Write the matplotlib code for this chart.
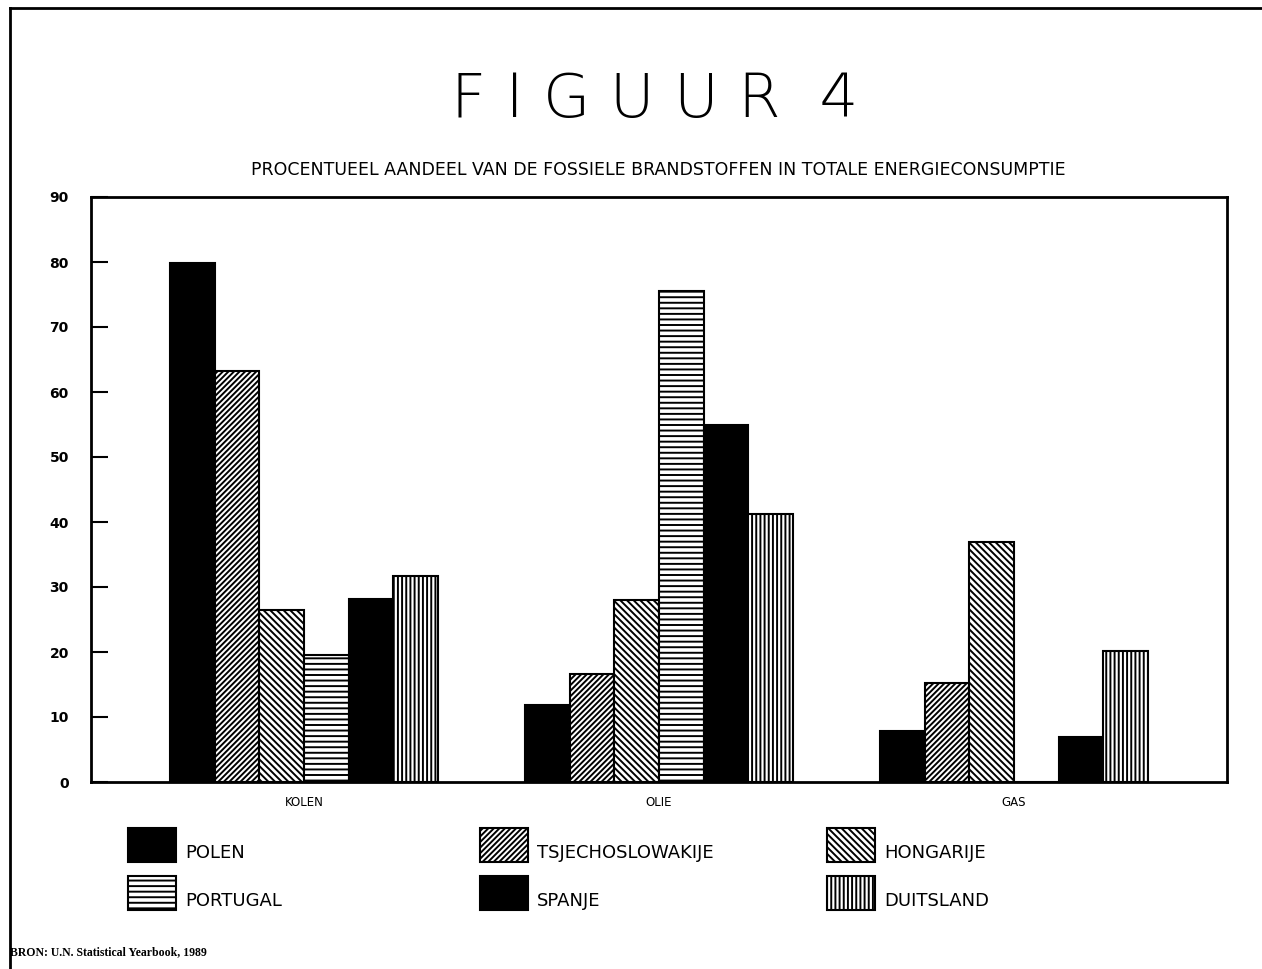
import matplotlib.pyplot as plt
import matplotlib.patches as mpatches
import numpy as np

plt.rcParams['hatch.linewidth'] = 1.4

categories = ["KOLEN", "OLIE", "GAS"]
countries = ["POLEN", "TSJECHOSLOWAKIJE", "HONGARIJE", "PORTUGAL", "SPANJE", "DUITSLAND"]
polen = [79.8, 11.8, 7.8]
tsjechoslowakije = [63.3, 16.6, 15.2]
hongarije = [26.4, 28.0, 37.0]
portugal = [19.6, 75.5, 0.0]
spanje = [28.1, 55.0, 7.0]
duitsland = [31.7, 41.3, 20.1]
yticks = [0, 10, 20, 30, 40, 50, 60, 70, 80, 90]

series = [polen, tsjechoslowakije, hongarije, portugal, spanje, duitsland]
styles = [
    dict(facecolor="black", hatch=None),
    dict(facecolor="white", hatch="//////"),
    dict(facecolor="white", hatch="\\\\\\\\\\"),
    dict(facecolor="white", hatch="---"),
    dict(facecolor="black", hatch=None),
    dict(facecolor="white", hatch="||||"),
]

W, H = 1262, 969
fig = plt.figure(figsize=(W / 100, H / 100), dpi=100)
ax = fig.add_axes([91 / W, 1 - 782 / H, (1227 - 91) / W, (782 - 197) / H])

x = np.arange(len(categories))
width = 0.1256
for i, (vals, st) in enumerate(zip(series, styles)):
    ax.bar(x + (i - 2.5) * width, vals, width, facecolor=st["facecolor"],
           hatch=st["hatch"], edgecolor="black", linewidth=1.5)

ax.set_xlim(-0.6, 2.6)
ax.set_ylim(0, 90)
ax.set_yticks(yticks)
ax.set_yticklabels([str(t) for t in yticks], fontsize=10, fontweight="semibold")
ax.tick_params(axis="y", direction="in", length=12, width=1.5, pad=16)
ax.set_xticks(x)
ax.set_xticklabels(categories, fontsize=8.5)
ax.tick_params(axis="x", length=0, pad=10)
for s in ax.spines.values():
    s.set_linewidth(2)

# titles
fig.text(655 / W, 1 - 100 / H, "F I G U U R  4", ha="center", va="center",
         fontsize=44, fontweight="ultralight", family="DejaVu Sans")
fig.text(658 / W, 1 - 170 / H,
         "PROCENTUEEL AANDEEL VAN DE FOSSIELE BRANDSTOFFEN IN TOTALE ENERGIECONSUMPTIE",
         ha="center", va="center", fontsize=12.5, fontweight="medium")

# legend, drawn as patches + labels in 3 columns x 2 rows
col_x = [128, 480, 827]
row_y = [828, 876]
pw, ph = 48, 34
for i, (name, st) in enumerate(zip(countries, styles)):
    cx = col_x[i % 3]
    ry = row_y[i // 3]
    rect = mpatches.Rectangle((cx / W, 1 - (ry + ph) / H), pw / W, ph / H,
                              transform=fig.transFigure, facecolor=st["facecolor"],
                              hatch=st["hatch"], edgecolor="black", linewidth=1.5)
    fig.add_artist(rect)
    fig.text((cx + 57) / W, 1 - (ry + ph) / H, name, ha="left", va="bottom", fontsize=13)

# outer frame lines
fig.add_artist(plt.Line2D([10 / W, 10 / W], [0, 1 - 8 / H], transform=fig.transFigure,
                          color="black", linewidth=2))
fig.add_artist(plt.Line2D([10 / W, 1], [1 - 8 / H, 1 - 8 / H], transform=fig.transFigure,
                          color="black", linewidth=2))

fig.text(10 / W, 1 - 952 / H, "BRON: U.N. Statistical Yearbook, 1989", ha="left",
         va="center", fontsize=8.5, family="Liberation Serif", fontweight="bold")

fig.savefig("out.png", dpi=100)
